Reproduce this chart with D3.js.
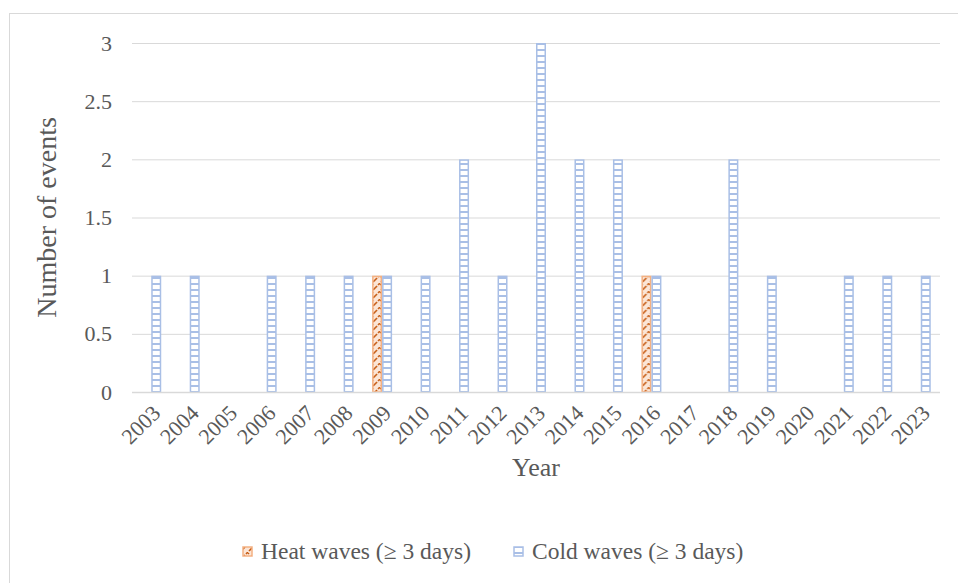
<!DOCTYPE html>
<html>
<head>
<meta charset="utf-8">
<script src="https://cdn.jsdelivr.net/npm/d3@7"></script>
<style>
  body { margin: 0; background: #fff; }
</style>
</head>
<body>
<div id="chart"></div>
<script>
// data
const years = ["2003", "2004", "2005", "2006", "2007", "2008", "2009", "2010", "2011", "2012",
  "2013", "2014", "2015", "2016", "2017", "2018", "2019", "2020", "2021", "2022", "2023"];
const heatWaves = [0, 0, 0, 0, 0, 0, 1, 0, 0, 0, 0, 0, 0, 1, 0, 0, 0, 0, 0, 0, 0];
const coldWaves = [1, 1, 0, 1, 1, 1, 1, 1, 2, 1, 3, 2, 2, 1, 0, 2, 1, 0, 1, 1, 1];
const yTicks = [0, 0.5, 1, 1.5, 2, 2.5, 3];
const seriesNames = ["Heat waves (\u2265 3 days)", "Cold waves (\u2265 3 days)"];

const FONT = "'Liberation Serif', 'Times New Roman', 'DejaVu Serif', serif";
const TEXT_COLOR = "#595959";

const width = 958, height = 583;
const margin = { top: 43, right: 18, bottom: 191, left: 132 };
const plotW = width - margin.left - margin.right;
const plotH = height - margin.top - margin.bottom;

const svg = d3.select("#chart").append("svg")
    .attr("width", width)
    .attr("height", height)
    .attr("font-family", FONT);

// patterns
const defs = svg.append("defs");
const heatPat = defs.append("pattern")
    .attr("id", "heat")
    .attr("patternUnits", "userSpaceOnUse")
    .attr("width", 8).attr("height", 8);
heatPat.append("rect").attr("width", 8).attr("height", 8).attr("fill", "#fbe5d6");
heatPat.append("path")
    .attr("d", "M1,7 L5,3 M6,2 L8,0 M0,2 L1,1")
    .attr("stroke", "#c55a11").attr("stroke-width", 1.6);

const coldPat = defs.append("pattern")
    .attr("id", "cold")
    .attr("patternUnits", "userSpaceOnUse")
    .attr("width", 6).attr("height", 6);
coldPat.append("rect").attr("width", 6).attr("height", 6).attr("fill", "#fff");
coldPat.append("rect").attr("y", 0).attr("width", 6).attr("height", 2).attr("fill", "#a9bfe6");

// outer border
svg.append("rect")
    .attr("x", 9.5).attr("y", 13.5)
    .attr("width", 1000).attr("height", 1000)
    .attr("fill", "none")
    .attr("stroke", "#d9d9d9");

const g = svg.append("g").attr("transform", `translate(${margin.left},${margin.top})`);

const x = d3.scaleBand().domain(years).range([0, plotW]);
const x1 = d3.scaleBand().domain([0, 1]).range([0, 20]);
const barOffset = (x.bandwidth() - 20) / 2;

const y = d3.scaleLinear().domain([0, 3]).range([plotH, 0]);

// gridlines
g.append("g")
    .selectAll("line")
    .data(yTicks.filter(d => d > 0))
    .enter().append("line")
    .attr("x1", 0).attr("x2", plotW)
    .attr("y1", d => y(d) + 0.5).attr("y2", d => y(d) + 0.5)
    .attr("stroke", "#d9d9d9").attr("stroke-width", 1);

// y axis
const yAxis = g.append("g")
    .call(d3.axisLeft(y).tickValues(yTicks).tickSize(0).tickPadding(20).tickFormat(d3.format("")));
yAxis.attr("font-family", FONT);
yAxis.select(".domain").remove();
yAxis.selectAll("text")
    .style("font-family", FONT)
    .style("font-size", "22px")
    .attr("fill", TEXT_COLOR);

// bars
const groups = g.selectAll(".year")
    .data(years)
    .enter().append("g")
    .attr("transform", d => `translate(${x(d) + barOffset},0)`);

groups.append("rect")
    .filter((d, i) => heatWaves[i] > 0)
    .attr("x", x1(0) + 0.75)
    .attr("y", d => y(heatWaves[years.indexOf(d)]) + 0.75)
    .attr("width", x1.bandwidth() - 1.5)
    .attr("height", d => plotH - y(heatWaves[years.indexOf(d)]) - 0.75)
    .attr("fill", "url(#heat)")
    .attr("stroke", "#f4b183").attr("stroke-width", 1.5);

groups.append("rect")
    .filter((d, i) => coldWaves[i] > 0)
    .attr("x", x1(1) + 0.75)
    .attr("y", d => y(coldWaves[years.indexOf(d)]) + 0.75)
    .attr("width", x1.bandwidth() - 1.5)
    .attr("height", d => plotH - y(coldWaves[years.indexOf(d)]) - 0.75)
    .attr("fill", "url(#cold)")
    .attr("stroke", "#a9bfe6").attr("stroke-width", 1.5);

// x axis baseline
g.append("line")
    .attr("x1", 0).attr("x2", plotW)
    .attr("y1", plotH + 0.5).attr("y2", plotH + 0.5)
    .attr("stroke", "#d9d9d9").attr("stroke-width", 1.5);

// x tick labels, rotated
g.append("g").selectAll("text")
    .data(years)
    .enter().append("text")
    .attr("transform", d => `translate(${x(d) + x.bandwidth() / 2 + 5},${plotH + 17}) rotate(-45)`)
    .attr("text-anchor", "end")
    .attr("dy", "0.35em")
    .style("font-family", FONT)
    .style("font-size", "22px")
    .attr("fill", TEXT_COLOR)
    .text(d => d);

// axis titles
svg.append("text")
    .attr("x", margin.left + plotW / 2)
    .attr("y", 476)
    .attr("text-anchor", "middle")
    .style("font-family", FONT)
    .style("font-size", "26px")
    .attr("fill", TEXT_COLOR)
    .text("Year");

svg.append("text")
    .attr("transform", `translate(56,${margin.top + plotH / 2}) rotate(-90)`)
    .attr("text-anchor", "middle")
    .style("font-family", FONT)
    .style("font-size", "28px")
    .attr("fill", TEXT_COLOR)
    .text("Number of events");

// legend
const legend = svg.append("g");
const legendItems = [
    { name: seriesNames[0], fill: "url(#heat)", stroke: "#f4b183", x: 243 },
    { name: seriesNames[1], fill: "url(#cold)", stroke: "#a9bfe6", x: 514 }
];
legendItems.forEach(item => {
    legend.append("rect")
        .attr("x", item.x).attr("y", 547)
        .attr("width", 9).attr("height", 9)
        .attr("fill", item.fill)
        .attr("stroke", item.stroke).attr("stroke-width", 1.5);
    legend.append("text")
        .attr("x", item.x + 18).attr("y", 559)
        .style("font-family", FONT)
        .style("font-size", "23.5px")
        .attr("fill", TEXT_COLOR)
        .text(item.name);
});
</script>
</body>
</html>
